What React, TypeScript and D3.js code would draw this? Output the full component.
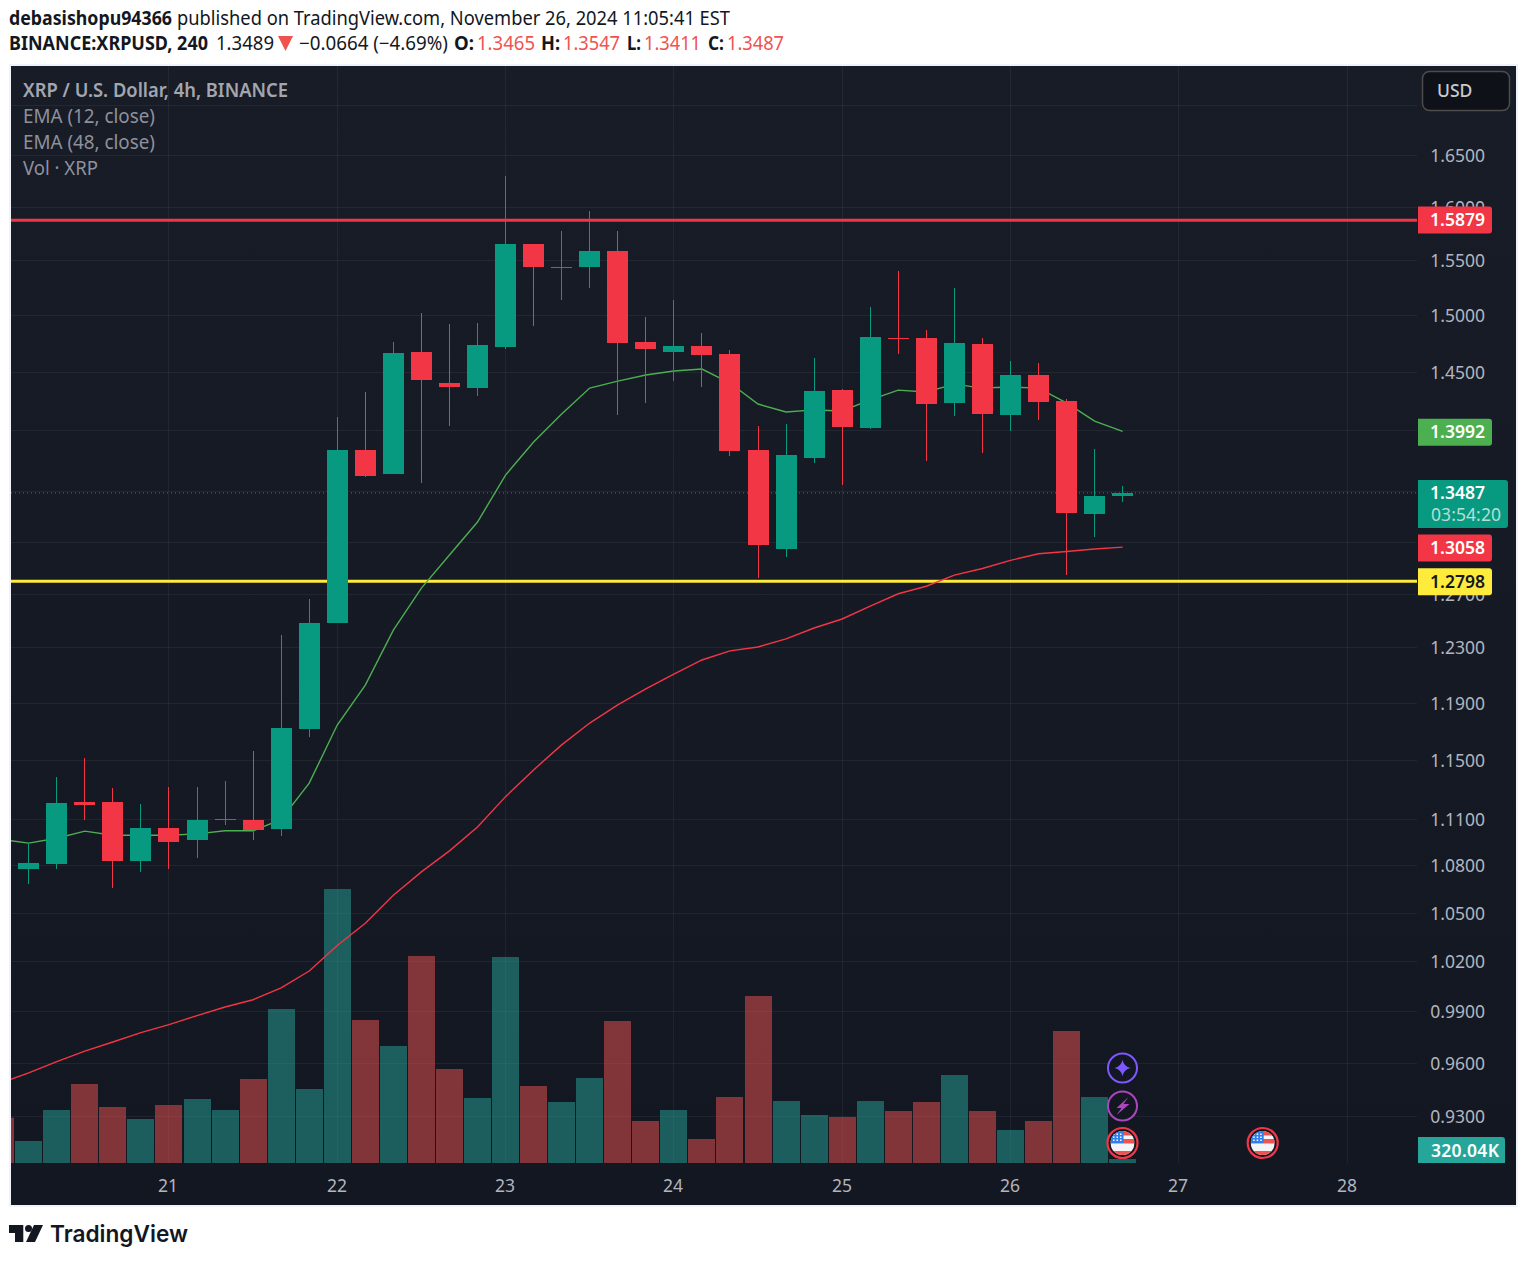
import React, { useEffect, useRef } from 'react';
import * as d3 from 'd3';

// 4h candles, Nov 20 - Nov 26 2024
const opens = [1.0777, 1.081, 1.1217, 1.1217, 1.0829, 1.1043, 1.0962, 1.1094, 1.1097, 1.1037, 1.1715, 1.248, 1.3837, 1.364, 1.467, 1.4401, 1.4358, 1.4714, 1.5646, 1.5423, 1.5432, 1.5581, 1.4757, 1.467, 1.4722, 1.4653, 1.3837, 1.3047, 1.3771, 1.434, 1.4019, 1.4797, 1.4792, 1.4231, 1.474, 1.4129, 1.447, 1.4248, 1.3319, 1.3465];
const highs = [1.0936, 1.1384, 1.1515, 1.1308, 1.1204, 1.1315, 1.1315, 1.1357, 1.1565, 1.239, 1.2661, 1.4112, 1.4325, 1.4755, 1.5016, 1.4917, 1.4926, 1.6294, 1.5646, 1.5771, 1.5958, 1.5771, 1.498, 1.5133, 1.4836, 1.4687, 1.4035, 1.4052, 1.4618, 1.4348, 1.507, 1.5395, 1.4862, 1.524, 1.4791, 1.4592, 1.4574, 1.4265, 1.3845, 1.3547];
const lows = [1.068, 1.0777, 1.1097, 1.0653, 1.0757, 1.0777, 1.0848, 1.1063, 1.0962, 1.0989, 1.1658, 1.248, 1.3616, 1.364, 1.3566, 1.4035, 1.4291, 1.4696, 1.4899, 1.5133, 1.524, 1.4129, 1.4231, 1.4418, 1.4367, 1.3788, 1.282, 1.2982, 1.373, 1.3551, 1.401, 1.4653, 1.3747, 1.412, 1.3812, 1.3993, 1.4086, 1.2843, 1.3136, 1.3411];
const closes = [1.0816, 1.121, 1.1197, 1.0829, 1.1043, 1.0949, 1.1097, 1.11, 1.103, 1.1722, 1.248, 1.3837, 1.3624, 1.4661, 1.4426, 1.4367, 1.4731, 1.5646, 1.5432, 1.5432, 1.5581, 1.4748, 1.4696, 1.4722, 1.4644, 1.3829, 1.3071, 1.3796, 1.4331, 1.4027, 1.4801, 1.4792, 1.4222, 1.4748, 1.4138, 1.447, 1.4239, 1.3327, 1.3465, 1.3487];

// volume in thousands; the first entry is the bar cut off at the left edge
const prevVolume = 3624;
const volumes = [1760, 4240, 6320, 4480, 3520, 4640, 5120, 4240, 6720, 12320, 5920, 21920, 11440, 9360, 16560, 7520, 5200, 16480, 6160, 4880, 6800, 11360, 3360, 4240, 1920, 5280, 13360, 4960, 3840, 3680, 4960, 4160, 4880, 7040, 4160, 2640, 3360, 10560, 5280, 320.04];

// EMAs start one bar before the first candle
const ema12 = [1.0969, 1.0944, 1.0976, 1.1023, 1.0996, 1.0996, 1.0996, 1.1005, 1.1025, 1.1025, 1.11, 1.1343, 1.1743, 1.2026, 1.2427, 1.2743, 1.2997, 1.3255, 1.3632, 1.3903, 1.4137, 1.4358, 1.4418, 1.447, 1.4505, 1.4522, 1.4401, 1.4222, 1.4155, 1.4172, 1.4163, 1.4257, 1.434, 1.4325, 1.4392, 1.4358, 1.4367, 1.4358, 1.4231, 1.4078, 1.3992];
const ema48 = [0.9485, 0.9542, 0.9607, 0.9667, 0.972, 0.9774, 0.9821, 0.9874, 0.9925, 0.9968, 1.0039, 1.014, 1.0296, 1.0433, 1.0609, 1.0758, 1.0894, 1.105, 1.1252, 1.1433, 1.1605, 1.1757, 1.1885, 1.2, 1.2106, 1.2208, 1.2274, 1.2303, 1.2362, 1.2443, 1.251, 1.2607, 1.27, 1.2757, 1.2842, 1.2893, 1.2955, 1.3007, 1.3024, 1.3043, 1.3058];

const priceTicks = [0.93, 0.96, 0.99, 1.02, 1.05, 1.08, 1.11, 1.15, 1.19, 1.23, 1.27, 1.31, 1.35, 1.4, 1.45, 1.5, 1.55, 1.6, 1.65, 1.7];
const dayLabels = ['21', '22', '23', '24', '25', '26', '27', '28'];
const dayIndex = [5, 11, 17, 23, 29, 35, 41, 47];
const resistance = 1.5879;
const support = 1.2798;
const lastPrice = 1.3487;

const legendLines = ['EMA (12, close)', 'EMA (48, close)', 'Vol · XRP'];
const legendWidths = [132, 132, 75];

const UP = '#089981';
const DOWN = '#f23645';
const GRID = 'rgba(240,243,250,0.06)';
const FONT = '"Noto Sans", sans-serif';

export default function App() {
  const svgRef = useRef<SVGSVGElement | null>(null);

  useEffect(() => {
    if (!svgRef.current) return;
    const svg = d3.select(svgRef.current);
    svg.selectAll('*').remove();

    const pane = { left: 11, right: 1417, top: 66, bottom: 1163 };

    const x = d3.scaleLinear().domain([0, 39]).range([28.7, 1122.65]);
    const px = (i: number) => Math.floor(x(i)) + 0.5;
    const y = d3.scaleLog().domain([0.93, 1.65]).range([1116, 155]);
    const yVol = d3.scaleLinear().domain([0, 21920]).range([1163, 889]);

    const defs = svg.append('defs');
    const grad = defs.append('linearGradient').attr('id', 'bg').attr('x1', 0).attr('x2', 0).attr('y1', 0).attr('y2', 1);
    grad.append('stop').attr('offset', '0%').attr('stop-color', '#181c27');
    grad.append('stop').attr('offset', '100%').attr('stop-color', '#131722');
    defs.append('clipPath').attr('id', 'pane').append('rect')
      .attr('x', pane.left).attr('y', pane.top)
      .attr('width', pane.right - pane.left).attr('height', pane.bottom - pane.top);
    defs.append('clipPath').attr('id', 'flag').append('circle').attr('r', 12);

    svg.append('rect').attr('width', 1527).attr('height', 1261).attr('fill', '#fff');
    svg.append('rect').attr('x', 9).attr('y', 64).attr('width', 1509).attr('height', 1143).attr('fill', '#f0f3fa');
    svg.append('rect').attr('x', 11).attr('y', 66).attr('width', 1505).attr('height', 1139).attr('fill', 'url(#bg)');

    // header
    const header = svg.append('g').attr('font-family', FONT).attr('font-size', 19).attr('fill', '#131722');
    const headerText = (tx: number, ty: number, s: string, len: number, bold = false, fill = '#131722') =>
      header.append('text').attr('x', tx).attr('y', ty).text(s)
        .attr('font-weight', bold ? 700 : 400).attr('fill', fill)
        .attr('textLength', len).attr('lengthAdjust', 'spacingAndGlyphs');
    headerText(9, 25, 'debasishopu94366', 163, true);
    headerText(177, 25, 'published on TradingView.com, November 26, 2024 11:05:41 EST', 553);
    headerText(9, 50, 'BINANCE:XRPUSD, 240', 199, true);
    headerText(216, 50, '1.3489', 58);
    header.append('path').attr('d', 'M278,36 L293,36 L285.5,51 Z').attr('fill', '#ef5350');
    headerText(299, 50, '−0.0664 (−4.69%)', 149);
    const ohlc: [string, number, number, string, number][] = [
      ['O:', 454, 477, '1.3465', 58],
      ['H:', 541, 563, '1.3547', 57],
      ['L:', 627, 644, '1.3411', 57],
      ['C:', 708, 727, '1.3487', 57],
    ];
    ohlc.forEach(([k, kx, vx, v, len]) => {
      headerText(kx, 50, k, vx - kx - 3, true);
      headerText(vx, 50, v, len, false, '#ef5350');
    });

    // grid
    const grid = svg.append('g').attr('stroke', GRID).attr('stroke-width', 1);
    grid.selectAll('line.h').data(priceTicks).join('line').attr('class', 'h')
      .attr('x1', pane.left).attr('x2', pane.right)
      .attr('y1', d => Math.round(y(d)) + 0.5).attr('y2', d => Math.round(y(d)) + 0.5);
    grid.selectAll('line.v').data(dayIndex).join('line').attr('class', 'v')
      .attr('x1', d => px(d)).attr('x2', d => px(d))
      .attr('y1', pane.top).attr('y2', pane.bottom);

    const plot = svg.append('g').attr('clip-path', 'url(#pane)');

    // volume
    const volData = [prevVolume, ...volumes];
    plot.append('g').selectAll('rect').data(volData).join('rect')
      .attr('x', (_, i) => Math.floor(x(i - 1)) - 13)
      .attr('width', 27)
      .attr('y', d => yVol(d))
      .attr('height', d => yVol(0) - yVol(d))
      .attr('fill', (_, i) => {
        const up = i === 0 ? false : closes[i - 1] >= opens[i - 1];
        return up ? 'rgba(38,166,154,0.5)' : 'rgba(239,83,80,0.5)';
      });

    // horizontal levels
    plot.append('line').attr('x1', pane.left).attr('x2', pane.right)
      .attr('y1', y(lastPrice)).attr('y2', y(lastPrice))
      .attr('stroke', UP).attr('stroke-dasharray', '1 3');
    plot.append('line').attr('x1', pane.left).attr('x2', pane.right)
      .attr('y1', y(resistance) + 1).attr('y2', y(resistance) + 1)
      .attr('stroke', DOWN).attr('stroke-width', 3);
    plot.append('line').attr('x1', pane.left).attr('x2', pane.right)
      .attr('y1', y(support) + 0.5).attr('y2', y(support) + 0.5)
      .attr('stroke', '#ffeb3b').attr('stroke-width', 3);

    // EMAs
    const line = d3.line<number>().x((_, i) => x(i - 1)).y(d => y(d));
    plot.append('path').attr('d', line(ema12)).attr('fill', 'none').attr('stroke', '#4caf50').attr('stroke-width', 1.4);
    plot.append('path').attr('d', line(ema48)).attr('fill', 'none').attr('stroke', DOWN).attr('stroke-width', 1.4);

    // candles
    const color = (i: number) => (closes[i] >= opens[i] ? UP : DOWN);
    const candles = plot.append('g').attr('shape-rendering', 'crispEdges');
    candles.selectAll('rect.wick').data(highs).join('rect').attr('class', 'wick')
      .attr('x', (_, i) => Math.floor(x(i)))
      .attr('width', 1)
      .attr('y', d => y(d))
      .attr('height', (d, i) => y(lows[i]) - y(d))
      .attr('fill', (_, i) => color(i));
    candles.selectAll('rect.body').data(opens).join('rect').attr('class', 'body')
      .attr('x', (_, i) => Math.floor(x(i)) - 10)
      .attr('width', 21)
      .attr('y', (d, i) => Math.round(y(Math.max(d, closes[i]))))
      .attr('height', (d, i) => Math.max(1, Math.round(y(Math.min(d, closes[i]))) - Math.round(y(Math.max(d, closes[i])))))
      .attr('fill', (_, i) => color(i));

    // legend
    const legend = svg.append('g').attr('font-family', FONT).attr('font-size', 19).attr('fill', '#8e919c');
    legend.append('text').attr('x', 23).attr('y', 97).attr('font-weight', 600).attr('fill', '#a3a6af')
      .attr('textLength', 265).attr('lengthAdjust', 'spacingAndGlyphs').text('XRP / U.S. Dollar, 4h, BINANCE');
    legend.selectAll('text.row').data(legendLines).join('text').attr('class', 'row')
      .attr('x', 23).attr('y', (_, i) => 123 + i * 26)
      .attr('textLength', (_, i) => legendWidths[i]).attr('lengthAdjust', 'spacingAndGlyphs').text(d => d);

    // price axis, the 1.7000 label sits under the currency button
    const axis = svg.append('g').attr('font-family', FONT).attr('font-size', 17.5).attr('fill', '#b2b5be');
    axis.selectAll('text').data(priceTicks.filter(d => d < 1.7)).join('text')
      .attr('x', 1485).attr('y', d => y(d) + 7).attr('text-anchor', 'end')
      .text(d => d3.format('.4f')(d));

    // day axis
    const days = svg.append('g').attr('font-family', FONT).attr('font-size', 17.5).attr('fill', '#b2b5be');
    days.selectAll('text').data(dayLabels).join('text')
      .attr('x', (_, i) => px(dayIndex[i]) - 0.5).attr('y', 1192).attr('text-anchor', 'middle').text(d => d);

    // price tags
    const tag = (price: number, fill: string, txt: string, label: string) => {
      const cy = y(price) + 0.8;
      svg.append('path')
        .attr('d', `M1418,${cy - 13.5} H1489 a3,3 0 0 1 3,3 V${cy + 10.5} a3,3 0 0 1 -3,3 H1418 Z`)
        .attr('fill', fill);
      svg.append('text').attr('x', 1485).attr('y', cy + 6).attr('text-anchor', 'end')
        .attr('font-family', FONT).attr('font-size', 17.5).attr('font-weight', 600).attr('fill', txt).text(label);
    };
    tag(resistance, DOWN, '#fff', d3.format('.4f')(resistance));
    tag(ema12[ema12.length - 1], '#4caf50', '#fff', d3.format('.4f')(ema12[ema12.length - 1]));
    tag(ema48[ema48.length - 1], DOWN, '#fff', d3.format('.4f')(ema48[ema48.length - 1]));
    tag(support, '#ffeb3b', '#131722', d3.format('.4f')(support));

    const lastY = y(lastPrice) + 0.5;
    svg.append('path')
      .attr('d', `M1418,${lastY - 13.5} H1505 a3,3 0 0 1 3,3 V${lastY + 31.5} a3,3 0 0 1 -3,3 H1418 Z`)
      .attr('fill', UP);
    svg.append('text').attr('x', 1485).attr('y', lastY + 6).attr('text-anchor', 'end')
      .attr('font-family', FONT).attr('font-size', 17.5).attr('font-weight', 600).attr('fill', '#fff').text(d3.format('.4f')(lastPrice));
    svg.append('text').attr('x', 1431).attr('y', lastY + 28)
      .attr('font-family', FONT).attr('font-size', 17.5).attr('fill', '#fff').attr('fill-opacity', 0.7)
      .attr('textLength', 70).attr('lengthAdjust', 'spacing').text('03:54:20');

    // volume tag
    svg.append('path').attr('d', 'M1418,1137 H1502 a3,3 0 0 1 3,3 V1163 H1418 Z').attr('fill', '#26a69a');
    svg.append('text').attr('x', 1431).attr('y', 1157)
      .attr('font-family', FONT).attr('font-size', 17.5).attr('font-weight', 600).attr('fill', '#fff')
      .attr('textLength', 68).attr('lengthAdjust', 'spacing')
      .text(`${d3.format('.2f')(volumes[volumes.length - 1])}K`);

    // currency button
    svg.append('rect').attr('x', 1422.5).attr('y', 71.5).attr('width', 87).attr('height', 39).attr('rx', 7)
      .attr('fill', '#0f1119').attr('stroke', '#4e4c4a').attr('stroke-width', 1.5);
    svg.append('text').attr('x', 1437).attr('y', 97).attr('font-family', FONT).attr('font-size', 17.5)
      .attr('font-weight', 500).attr('fill', '#c9cacc').text('USD');

    // event markers
    const icon = svg.append('g').attr('transform', `translate(${px(39)},1068)`);
    icon.append('circle').attr('r', 14.5).attr('fill', '#131722').attr('stroke', '#7e57ff').attr('stroke-width', 2);
    icon.append('path').attr('d', 'M0,-8 Q1.5,-1.5 8,0 Q1.5,1.5 0,8 Q-1.5,1.5 -8,0 Q-1.5,-1.5 0,-8 Z').attr('fill', '#7e57ff');
    const bolt = svg.append('g').attr('transform', `translate(${px(39)},1106)`);
    bolt.append('circle').attr('r', 14.5).attr('fill', '#131722').attr('stroke', '#ab47bc').attr('stroke-width', 2);
    bolt.append('path').attr('d', 'M6,-9 L-6,2 L-1,2 L-6,9 L7,-2 L1,-2 Z').attr('fill', '#ab47bc');

    const flag = (cx: number) => {
      const g = svg.append('g').attr('transform', `translate(${cx},1143)`);
      g.append('circle').attr('r', 15).attr('fill', '#131722').attr('stroke', DOWN).attr('stroke-width', 2.2);
      const f = g.append('g').attr('clip-path', 'url(#flag)');
      f.append('rect').attr('x', -12).attr('y', -12).attr('width', 24).attr('height', 24).attr('fill', '#f4f4f4');
      [-12, -4, 4].forEach((sy, k) => {
        f.append('rect').attr('x', -12).attr('y', sy + (k === 2 ? 4 : 0)).attr('width', 24).attr('height', k === 2 ? 8 : 4.5).attr('fill', '#ef5350');
      });
      f.append('rect').attr('x', -12).attr('y', -12).attr('width', 13).attr('height', 12).attr('fill', '#2f80ed');
      d3.range(3).forEach(r => d3.range(3).forEach(c => {
        f.append('rect').attr('x', -9.5 + c * 3.5).attr('y', -9.5 + r * 3).attr('width', 1.5).attr('height', 1.5).attr('fill', '#fff');
      }));
    };
    flag(px(39));
    flag(1262.7);

    // logo
    const logo = svg.append('g').attr('fill', '#131722');
    logo.append('path').attr('d', 'M9,1225 H23.3 V1242 H15 V1233 H9 Z');
    logo.append('circle').attr('cx', 28.5).attr('cy', 1228.5).attr('r', 3.5);
    logo.append('path').attr('d', 'M34,1225 H43 L35,1242 H26 Z');
    logo.append('text').attr('x', 50).attr('y', 1242).attr('font-family', '"Inter", sans-serif').attr('font-size', 23.5)
      .attr('font-weight', 600).attr('textLength', 138).attr('lengthAdjust', 'spacingAndGlyphs').text('TradingView');
  }, []);

  return <svg ref={svgRef} width={1527} height={1261} style={{ position: 'absolute', left: 0, top: 0 }} />;
}
